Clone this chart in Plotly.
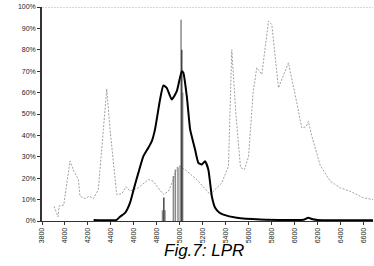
import plotly.graph_objects as go

# Dotted gray reference spectrum (wavelength, %)
ref_x = [3905, 3925, 3940, 3950, 3990, 4044, 4080, 4117, 4131, 4175, 4213, 4248, 4291, 4335,
         4364, 4393, 4451, 4495, 4533, 4567, 4640, 4727, 4768, 4858, 4902, 4945, 4975, 5003,
         5047, 5149, 5265, 5367, 5425, 5454, 5490, 5530, 5564, 5600, 5640, 5672, 5716, 5774,
         5803, 5861, 5948, 6021, 6064, 6100, 6122, 6150, 6225, 6312, 6399, 6486, 6602, 6689]
ref_y = [6.8, 4, 2, 7, 7.5, 28, 23, 19.4, 11.6, 10.5, 11.6, 10.5, 14.7, 42.8,
         61.8, 42.8, 12.4, 12.7, 16, 14, 15.5, 19.4, 18.6, 12.4, 13.9, 19.4, 24.9, 25.6,
         24, 19.4, 12.4, 17.8, 25.6, 80, 50, 25, 24, 30, 60, 71.6, 68.5, 93.4,
         91.8, 62.2, 73.9, 55.2, 43.5, 44, 46.6, 40, 26, 18.6, 15.5, 13.9, 10.8, 10]

# Solid black LPR curve
lpr_x = [4250, 4450, 4480, 4524, 4567, 4600, 4640, 4684, 4727, 4757, 4785, 4829, 4858, 4887,
         4931, 4975, 5018, 5032, 5062, 5091, 5105, 5134, 5163, 5192, 5221, 5250, 5280, 5309,
         5345, 5381, 5498, 5701, 6000, 6080, 6120, 6160, 6200, 6685]
lpr_y = [0.5, 0.5, 2, 3.8, 8.5, 15, 22.5, 30.3, 34.2, 37.3, 42.8, 56.8, 63.3, 62.2,
         56.8, 60.7, 70, 69.3, 58.3, 42.8, 39.6, 33.4, 27.2, 26.4, 27.9, 24, 11.6, 6.2,
         4, 3, 1.5, 0.7, 0.5, 0.6, 1.5, 0.8, 0.5, 0.3]

# Emission line spikes
spike_x = [4850, 4872, 4945, 4962, 4985, 5005, 5012, 5026]
spike_y = [5, 5, 21, 24, 25, 26, 94, 60]
dark_x = [4862, 5018]
dark_y = [11, 80]

x_ticks = list(range(3800, 6601, 200))
y_ticks = list(range(0, 101, 10))
y_labels = [f"{v}%" for v in y_ticks]


def spikes(xs, ys):
    px, py = [], []
    for xv, yv in zip(xs, ys):
        px += [xv, xv, None]
        py += [0, yv, None]
    return px, py


fig = go.Figure()
fig.add_trace(go.Scatter(x=ref_x, y=ref_y, mode="lines",
                         line=dict(color="#a0a0a0", width=1, dash="2px,1.5px")))
sx, sy = spikes(spike_x, spike_y)
fig.add_trace(go.Scatter(x=sx, y=sy, mode="lines", line=dict(color="#8a8a8a", width=1.5)))
dx, dy = spikes(dark_x, dark_y)
fig.add_trace(go.Scatter(x=dx, y=dy, mode="lines", line=dict(color="#444444", width=1.5)))
fig.add_trace(go.Scatter(x=lpr_x, y=lpr_y, mode="lines",
                         line=dict(color="black", width=2, shape="spline", smoothing=0.5)))

fig.add_shape(type="line", xref="paper", yref="y", x0=0, x1=1, y0=100, y1=100,
              line=dict(color="#b0b0b0", width=1, dash="2px,1px"))

fig.update_layout(
    width=374, height=266,
    margin=dict(l=42, r=1, t=7, b=45, autoexpand=False),
    paper_bgcolor="white", plot_bgcolor="white",
    showlegend=False,
    font=dict(family="Liberation Sans, Arial, sans-serif", color="#222"),
    xaxis=dict(range=[3800, 6685], tickvals=x_ticks, tickangle=-90,
               tickfont=dict(size=7), showgrid=False, zeroline=False, automargin=False,
               showline=True, linecolor="#333", linewidth=1,
               ticks="outside", ticklen=3, tickcolor="#333"),
    yaxis=dict(range=[0, 100], tickvals=y_ticks, ticktext=y_labels,
               tickfont=dict(size=7), showgrid=False, zeroline=False, automargin=False,
               showline=True, linecolor="#333", linewidth=1.5,
               ticks="outside", ticklen=3, tickcolor="#333"),
    annotations=[dict(text="<i>Fig.7: LPR</i>", xref="paper", yref="paper",
                      x=0.49, y=-0.14, xanchor="center", yanchor="middle",
                      showarrow=False, font=dict(size=17, color="black",
                                                 family="Liberation Sans, Arial, sans-serif"))],
)

fig.write_html("out.html", config={"displayModeBar": False},
               post_script="document.body.style.margin='0';document.body.style.padding='0';")
